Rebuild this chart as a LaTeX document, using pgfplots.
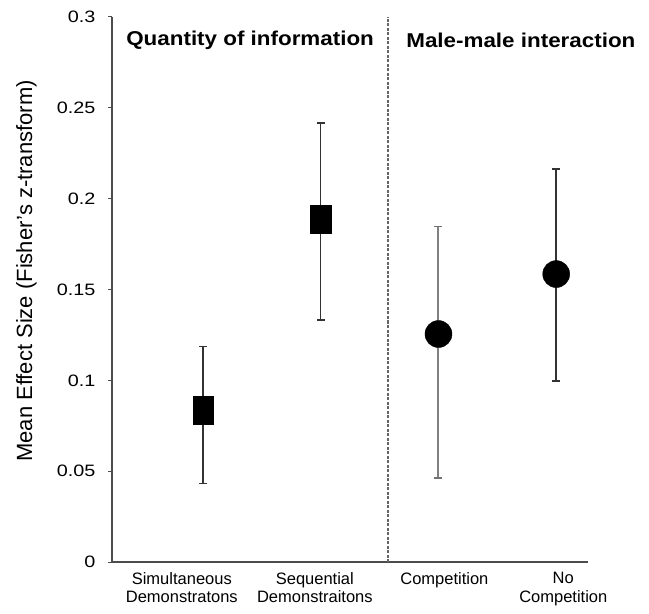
\documentclass[border=0pt]{standalone}
\usepackage{fontspec}
\setmainfont{Liberation Sans}
\newfontfamily\yfont{Liberation Sans}[FakeStretch=1.2]
\newfontfamily\tfont{Liberation Sans}[FakeStretch=1.12]
\usepackage{pgfplots}
\pgfplotsset{compat=1.18}
\begin{document}
\begin{tikzpicture}
\begin{axis}[
  scale only axis, width=476pt, height=545pt,
  xmin=0.227, xmax=4.27, ymin=0, ymax=0.3,
  axis x line*=bottom, axis y line*=left,
  axis line style={draw=black!70, line width=1.3pt},
  ytick={0,0.05,0.1,0.15,0.2,0.25,0.3},
  yticklabels={0,0.05,0.1,0.15,0.2,0.25,0.3},
  yticklabel style={font=\yfont\fontsize{16.5}{19}\selectfont, xshift=-9pt},
  ytick style={draw=black!70, line width=1pt},
  tick align=outside, major tick length=4pt,
  xtick={0.82,1.95,3.05,4.06},
  xticklabels={{Simultaneous\\Demonstratons},{Sequential\\Demonstraitons},{Competition\\ \strut},{No\\Competition}},
  xticklabel style={font=\fontsize{16.5}{18.5}\selectfont, align=center, anchor=north, yshift=-3pt},
  x tick style={draw=none},
  ylabel={Mean Effect Size (Fisher's z-transform)},
  ylabel style={font=\fontsize{22}{24}\selectfont, at={(axis description cs:-0.18,0.534)}, anchor=center},
  clip=false,
]
\coordinate (ll) at (rel axis cs:0,0);
\coordinate (ur) at (rel axis cs:1,1);
\draw[black!60, dashed, line width=1.3pt, dash pattern=on 3pt off 1.5pt] (axis cs:2.572,0) -- (axis cs:2.572,0.3);
\node[font=\tfont\bfseries\fontsize{20}{22}\selectfont] at (axis cs:1.40,0.287) {Quantity of information};
\node[font=\tfont\bfseries\fontsize{20}{22}\selectfont] at (axis cs:3.70,0.287) {Male-male interaction};
% squares
\addplot[only marks, mark=square*, mark size=14pt, mark options={xscale=0.72, fill=black, draw=black},
  error bars/.cd, y dir=both, y explicit,
  error bar style={draw=black!80, line width=1.5pt},
  error mark options={rotate=90, mark size=4pt, line width=1.3pt, draw=black!80}]
  coordinates {
  (1,0.0837) += (0,0.0348) -= (0,0.0404)
  (2,0.1886) += (0,0.0530) -= (0,0.0554)
  };
% circle competition
\addplot[only marks, mark=*, mark size=13.5pt, mark options={fill=black, draw=black},
  error bars/.cd, y dir=both, y explicit,
  error bar style={draw=black!50, line width=2pt},
  error mark options={rotate=90, mark size=4pt, line width=1.3pt, draw=black!55}]
  coordinates {
  (3,0.1255) += (0,0.0590) -= (0,0.0793)
  };
% circle no competition
\addplot[only marks, mark=*, mark size=13.5pt, mark options={fill=black, draw=black},
  error bars/.cd, y dir=both, y explicit,
  error bar style={draw=black!80, line width=1.5pt},
  error mark options={rotate=90, mark size=4pt, line width=1.3pt, draw=black!80}]
  coordinates {
  (4,0.1585) += (0,0.0578) -= (0,0.0589)
  };
\end{axis}
\pgfresetboundingbox
\path ([xshift=-112pt,yshift=-51pt]ll) rectangle ([xshift=61pt,yshift=17pt]ur);
\end{tikzpicture}
\end{document}
